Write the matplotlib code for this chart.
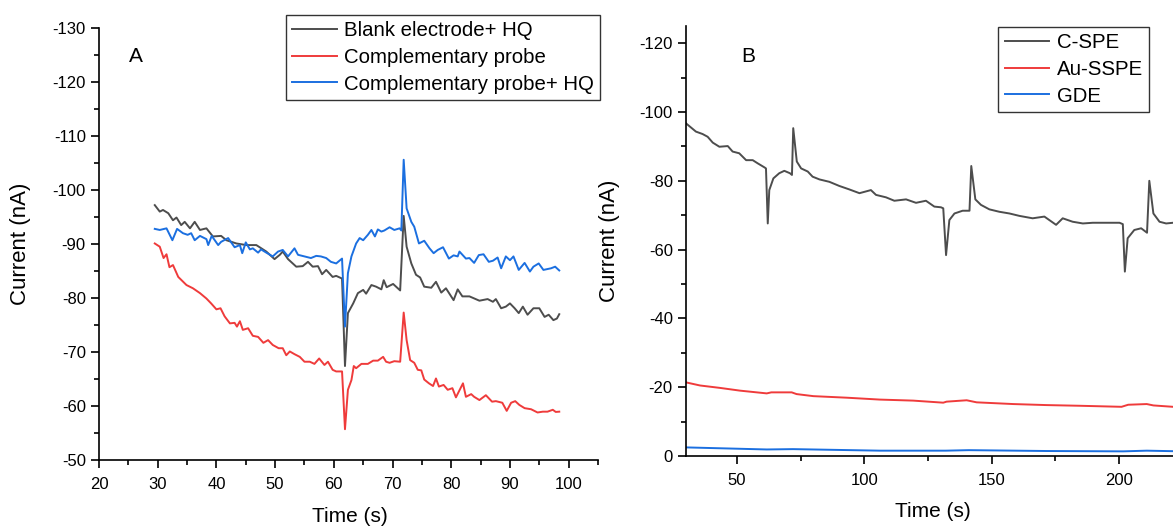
import matplotlib
matplotlib.use("Agg")
import matplotlib.pyplot as plt
from matplotlib.ticker import MultipleLocator

plt.rcParams['font.family'] = ['Liberation Sans', 'DejaVu Sans']
plt.rcParams['axes.unicode_minus'] = False

# Panel A - Blank electrode+ HQ
a_gray_t = [29.5, 30.35, 30.9, 31.8, 32.6, 33.2, 34.0, 34.6, 35.5, 36.3, 37.2, 38.3, 39.4, 40.8, 41.7,
            43.4, 45.1, 46.8, 48.5, 49.9, 50.8, 51.3, 52.2, 53.6, 54.7, 55.6, 56.4, 57.3, 58.0, 58.7,
            59.8, 60.4, 61.4, 61.9, 62.4, 63.3, 64.1, 65.0, 65.5, 66.4, 67.2, 68.1, 68.5, 69.0, 70.1,
            71.3, 71.9, 72.4, 73.2, 74.0, 74.7, 75.4, 76.6, 77.4, 78.3, 79.1, 80.4, 81.1, 81.9, 83.1,
            84.8, 86.2, 87.1, 87.6, 88.5, 89.3, 90.0, 90.8, 91.5, 92.2, 93.0, 94.0, 95.0, 95.9, 96.6,
            97.4, 98.0, 98.4]
a_gray_i = [-97.2, -96.0, -96.3, -95.7, -94.4, -94.9, -93.5, -94.1, -92.9, -94.1, -92.6, -92.9, -91.4, -91.5, -90.7,
            -90.1, -89.8, -89.8, -88.6, -87.2, -88.0, -88.6, -87.2, -85.8, -85.9, -86.7, -85.8, -85.9, -84.4, -85.2,
            -83.9, -84.1, -83.6, -67.4, -77.2, -79.0, -80.9, -81.5, -80.8, -82.4, -82.1, -81.6, -83.3, -82.0, -82.6,
            -81.4, -95.2, -89.5, -86.4, -84.3, -83.8, -82.1, -81.9, -83.0, -81.0, -81.8, -79.6, -81.6, -80.3, -80.3,
            -79.5, -79.8, -79.3, -79.8, -78.1, -78.4, -79.0, -78.1, -77.2, -78.4, -76.9, -78.1, -78.1, -76.5, -76.9,
            -75.9, -76.2, -77.0]

# Panel A - Complementary probe
a_red_t = [29.5, 30.35, 31.0, 31.5, 32.0, 32.6, 33.5, 34.9, 36.0, 37.2, 38.3, 39.1, 40.0, 40.7, 41.4,
           42.3, 43.1, 43.5, 44.0, 44.5, 45.4, 46.2, 47.1, 48.0, 48.8, 49.6, 50.6, 51.3, 51.9, 52.5,
           53.3, 54.2, 55.0, 55.9, 56.7, 57.5, 58.4, 59.0, 59.8, 60.4, 61.4, 61.9, 62.4, 63.0, 63.4,
           63.8, 64.7, 65.8, 66.7, 67.5, 68.4, 68.9, 69.5, 70.3, 71.3, 71.9, 72.4, 73.0, 73.7, 74.3,
           74.9, 75.4, 76.2, 76.9, 77.4, 77.9, 78.7, 79.4, 80.2, 80.8, 82.0, 82.5, 83.4, 83.9, 84.8,
           85.9, 86.95, 87.6, 88.7, 89.45, 90.2, 90.9, 91.6, 92.5, 93.6, 94.7, 95.6, 96.4, 97.3, 97.8,
           98.4]
a_red_i = [-90.1, -89.5, -87.4, -88.1, -85.7, -86.1, -83.9, -82.4, -81.8, -80.9, -79.9, -79.0, -77.9, -78.1, -76.6,
           -75.3, -75.4, -74.7, -75.7, -74.1, -74.4, -73.0, -72.8, -71.7, -72.2, -71.3, -70.7, -70.7, -69.4, -70.1,
           -69.6, -69.1, -68.2, -68.2, -67.8, -68.8, -67.6, -68.2, -66.7, -66.4, -66.4, -55.7, -63.0, -64.8, -67.4,
           -67.0, -67.8, -67.8, -68.4, -68.4, -69.1, -68.2, -68.0, -68.3, -68.2, -77.3, -72.2, -68.5, -68.0, -66.7,
           -66.6, -64.9, -64.2, -63.7, -65.1, -63.6, -63.9, -63.0, -63.3, -61.6, -64.2, -61.7, -62.2, -61.7, -61.1,
           -62.0, -60.8, -60.9, -60.6, -59.1, -60.6, -60.9, -60.2, -59.6, -59.4, -58.8, -58.95, -58.95, -59.3, -58.9,
           -58.95]

# Panel A - Complementary probe+ HQ
a_blue_t = [29.5, 30.35, 31.5, 32.5, 33.3, 34.3, 35.1, 35.7, 36.3, 37.2, 38.3, 38.6, 39.2, 40.3, 40.8,
            42.0, 43.1, 44.0, 44.4, 45.0, 45.7, 46.2, 47.1, 47.6, 48.5, 49.6, 50.5, 51.3, 52.2, 53.3,
            53.9, 55.0, 56.1, 57.0, 57.8, 58.7, 59.5, 60.4, 61.4, 61.9, 62.4, 63.0, 63.8, 64.4, 65.0,
            65.8, 66.4, 67.0, 67.5, 68.1, 68.6, 69.5, 70.3, 71.2, 71.5, 71.9, 72.4, 73.2, 73.7, 74.5,
            75.4, 76.3, 77.0, 77.7, 78.6, 79.6, 80.4, 81.1, 81.4, 82.5, 83.1, 83.9, 84.7, 85.5, 86.4,
            87.1, 87.9, 88.5, 89.3, 90.0, 90.6, 91.5, 92.5, 93.4, 94.0, 94.9, 95.7, 97.0, 97.7, 98.4]
a_blue_i = [-92.8, -92.6, -92.9, -90.7, -92.8, -92.0, -91.7, -92.0, -90.7, -91.5, -90.9, -89.8, -91.5, -89.8, -90.4,
            -91.1, -89.4, -89.8, -88.3, -90.3, -89.0, -89.2, -88.4, -89.0, -88.4, -87.7, -88.6, -88.9, -87.7, -89.2,
            -88.0, -87.7, -87.4, -87.8, -87.7, -87.4, -86.7, -86.4, -87.3, -74.7, -84.6, -87.7, -90.1, -91.1, -90.7,
            -91.7, -92.6, -91.4, -92.7, -92.3, -92.5, -93.1, -92.6, -92.9, -92.5, -105.6, -96.6, -94.1, -93.2, -90.1,
            -90.6, -89.2, -88.3, -88.9, -89.4, -87.3, -87.9, -87.7, -88.6, -87.3, -87.4, -86.5, -87.95, -88.1, -86.7,
            -86.9, -87.5, -85.5, -87.7, -87.0, -87.7, -85.2, -86.5, -84.9, -85.8, -86.4, -85.2, -85.5, -85.8, -85.1]

# Panel B - C-SPE
b_gray_t = [30, 33.9, 36.5, 38.5, 40.5, 43.1, 46.4, 48.3, 50.9, 53.6, 56.2, 58.1, 60.8, 61.4, 62.1,
            62.7, 64.3, 66.6, 68.6, 70.8, 71.6, 72.1, 73.5, 75.2, 77.8, 79.7, 82.4, 86.3, 90.2, 94.1,
            98.1, 102.6, 104.6, 108.5, 111.8, 116.4, 120.3, 124.2, 127.5, 130.1, 131.0, 132.1, 133.4, 135.4, 138.6,
            141.3, 142.0, 143.6, 145.8, 149.1, 153.0, 157.0, 160.9, 166.1, 170.7, 175.3, 177.9, 181.8, 185.8, 189.7,
            194.9, 200.2, 201.5, 202.3, 203.4, 206.0, 208.7, 211.0, 211.9, 213.5, 215.9, 218.5, 221.2]
b_gray_i = [-96.7, -94.3, -93.6, -92.8, -91.1, -89.9, -90.1, -88.5, -88.0, -86.0, -86.0, -85.1, -83.9, -83.6, -67.6,
            -77.3, -80.7, -82.2, -82.9, -82.2, -81.7, -95.3, -85.6, -83.6, -82.7, -81.2, -80.4, -79.7, -78.5, -77.5,
            -76.4, -77.3, -75.9, -75.2, -74.2, -74.6, -73.6, -74.2, -72.5, -72.3, -72.0, -58.4, -68.6, -70.5, -71.3,
            -71.3, -84.3, -74.6, -73.0, -71.7, -71.0, -70.5, -69.8, -69.1, -69.6, -67.2, -69.1, -68.1, -67.6, -67.8,
            -67.8, -67.8, -67.4, -53.6, -63.3, -65.7, -66.2, -64.9, -80.0, -70.5, -68.1, -67.6, -67.8]

# Panel B - Au-SSPE
b_red_t = [30, 35.5, 43.3, 51.2, 61.7, 63.5, 71.5, 73.4, 80.0, 93.1, 106.1, 119.2, 131.0, 132.3, 140.2,
           144.1, 158.5, 171.6, 184.7, 201.0, 203.6, 210.9, 213.5, 221.2]
b_red_i = [-21.4, -20.5, -19.8, -19.0, -18.2, -18.5, -18.5, -18.0, -17.4, -16.95, -16.4, -16.1, -15.5, -15.8, -16.2,
           -15.6, -15.1, -14.8, -14.6, -14.3, -14.9, -15.1, -14.7, -14.3]

# Panel B - GDE
b_blue_t = [30, 61.7, 72.0, 106.1, 132.0, 141.0, 171.6, 201.6, 210.9, 221.2]
b_blue_i = [-2.5, -1.9, -2.0, -1.55, -1.55, -1.7, -1.45, -1.35, -1.55, -1.4]

GRAY = '#4d4d4d'
RED = '#ef3b3b'
BLUE = '#1b6fe0'

fig = plt.figure(figsize=(11.73, 5.27), dpi=100)
axA = fig.add_axes([99 / 1173, 1 - 460 / 527, 499 / 1173, 432 / 527])
axB = fig.add_axes([686 / 1173, 1 - 456 / 527, 487 / 1173, 430 / 527])

axA.plot(a_gray_t, a_gray_i, color=GRAY, lw=1.4, label='Blank electrode+ HQ')
axA.plot(a_red_t, a_red_i, color=RED, lw=1.4, label='Complementary probe')
axA.plot(a_blue_t, a_blue_i, color=BLUE, lw=1.4, label='Complementary probe+ HQ')
axA.set_xlim(20, 105)
axA.set_ylim(-50, -130)
axA.xaxis.set_minor_locator(MultipleLocator(5))
axA.yaxis.set_major_locator(MultipleLocator(10))
axA.yaxis.set_minor_locator(MultipleLocator(5))
axA.set_xticks(range(20, 101, 10))

axB.plot(b_gray_t, b_gray_i, color=GRAY, lw=1.4, label='C-SPE')
axB.plot(b_red_t, b_red_i, color=RED, lw=1.4, label='Au-SSPE')
axB.plot(b_blue_t, b_blue_i, color=BLUE, lw=1.4, label='GDE')
axB.set_xlim(30, 221.2)
axB.set_ylim(0, -125)
axB.xaxis.set_major_locator(MultipleLocator(50))
axB.xaxis.set_minor_locator(MultipleLocator(25))
axB.yaxis.set_major_locator(MultipleLocator(20))
axB.yaxis.set_minor_locator(MultipleLocator(10))

for ax in (axA, axB):
    for s in ('top', 'right'):
        ax.spines[s].set_visible(False)
    for s in ('left', 'bottom'):
        ax.spines[s].set_linewidth(1.2)
    ax.tick_params(which='major', direction='out', length=6, width=1.2, labelsize=12)
    ax.tick_params(axis='x', which='major', pad=6)
    ax.tick_params(which='minor', direction='out', length=3.5, width=1.2)
    ax.set_ylabel('Current (nA)', fontsize=16)
    ax.set_xlabel('Time (s)', fontsize=15)

axA.yaxis.set_label_coords(-0.137, 0.5)
axA.xaxis.set_label_coords(0.503, -0.108)
axB.yaxis.set_label_coords(-0.136, 0.5)
axB.xaxis.set_label_coords(0.507, -0.106)

axA.text(0.074, 0.933, 'A', transform=axA.transAxes, fontsize=15, ha='center', va='center')
axB.text(0.127, 0.928, 'B', transform=axB.transAxes, fontsize=15, ha='center', va='center')

for ax, anchor in ((axA, (600 / 1173, 1 - 15 / 527)), (axB, (1149 / 1173, 1 - 27 / 527))):
    leg = ax.legend(loc='upper right', bbox_to_anchor=anchor, bbox_transform=fig.transFigure,
                    fontsize=14.7, frameon=True, fancybox=False, borderaxespad=0,
                    handlelength=2.2, handletextpad=0.35, labelspacing=0.38, borderpad=0.3)
    leg.get_frame().set_edgecolor('black')
    leg.get_frame().set_linewidth(1.0)

fig.savefig('out.png', dpi=100)
